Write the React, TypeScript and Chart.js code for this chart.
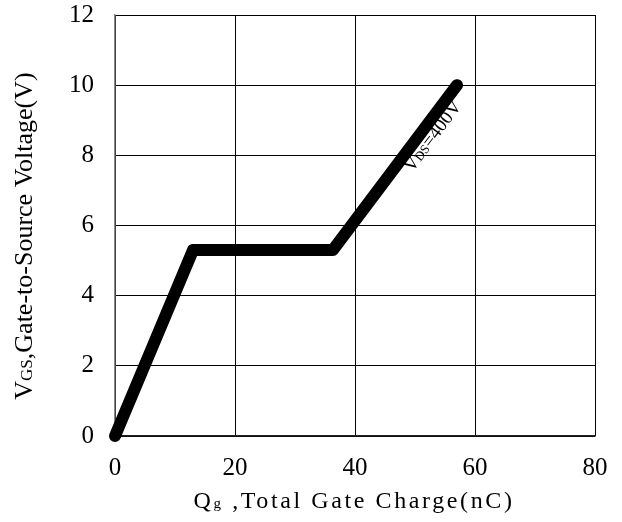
import React, { useEffect, useRef } from "react";
import { Chart, registerables } from "chart.js";
Chart.register(...registerables);

const qgValues = [0, 13, 36.3, 57];
const vgsValues = [0, 5.3, 5.3, 10];
const xTicks = [0, 20, 40, 60, 80];
const yTicks = [0, 2, 4, 6, 8, 10, 12];
const annotation = { x: 52.9, y: 8.55, main: "V", sub: "DS", rest: "=400V" };

const FONT = "'Liberation Serif', 'DejaVu Serif', serif";

function drawSubText(ctx: CanvasRenderingContext2D, parts: { t: string; size: number; dy: number }[], x: number, y: number, align: "center" | "left", spacing: number) {
  ctx.save();
  (ctx as any).letterSpacing = spacing + "px";
  let total = 0;
  const widths = parts.map((p) => {
    ctx.font = `${p.size}px ${FONT}`;
    const w = ctx.measureText(p.t).width;
    total += w;
    return w;
  });
  let cx = align === "center" ? x - total / 2 : x;
  ctx.textBaseline = "alphabetic";
  ctx.textAlign = "left";
  parts.forEach((p, i) => {
    ctx.font = `${p.size}px ${FONT}`;
    ctx.fillText(p.t, cx, y + p.dy);
    cx += widths[i];
  });
  ctx.restore();
}

const titlesPlugin = {
  id: "titles",
  afterDraw(chart: any) {
    const ctx = chart.ctx as CanvasRenderingContext2D;
    const xs = chart.scales.x;
    const ys = chart.scales.y;
    ctx.save();
    ctx.fillStyle = "#000";
    drawSubText(ctx, [
      { t: "Q", size: 24, dy: 0 },
      { t: "g", size: 15, dy: 0 },
      { t: " ,Total Gate Charge(nC)", size: 24, dy: 0 },
    ], 354, 508, "center", 2.6);
    ctx.save();
    ctx.translate(32, 236);
    ctx.rotate(-Math.PI / 2);
    drawSubText(ctx, [
      { t: "V", size: 26, dy: 0 },
      { t: "GS", size: 17, dy: 0 },
      { t: ",Gate-to-Source Voltage(V)", size: 26, dy: 0 },
    ], 0, 0, "center", 0);
    ctx.restore();
    const px = xs.getPixelForValue(annotation.x);
    const py = ys.getPixelForValue(annotation.y);
    ctx.save();
    ctx.translate(px, py);
    ctx.rotate(-53 * Math.PI / 180);
    drawSubText(ctx, [
      { t: annotation.main, size: 19, dy: 0 },
      { t: annotation.sub, size: 13, dy: 0 },
      { t: annotation.rest, size: 19, dy: 0 },
    ], 0, 6, "center", 0);
    ctx.restore();
    ctx.restore();
  },
};

export default function App() {
  const ref = useRef<HTMLCanvasElement>(null);
  useEffect(() => {
    document.body.style.margin = "0";
    const chart = new Chart(ref.current!, {
      type: "scatter",
      data: {
        datasets: [
          {
            data: qgValues.map((x, i) => ({ x, y: vgsValues[i] })),
            showLine: true,
            borderColor: "#000",
            backgroundColor: "#000",
            borderWidth: 12,
            borderCapStyle: "round",
            borderJoinStyle: "round",
            pointRadius: 0,
            clip: false,
          } as any,
        ],
      },
      options: {
        animation: false,
        responsive: false,
        layout: { padding: { top: 15, right: 27, left: 0, bottom: 0 } },
        plugins: { legend: { display: false }, tooltip: { enabled: false } },
        scales: {
          x: {
            type: "linear",
            min: 0,
            max: 80,
            afterBuildTicks: (s: any) => { s.ticks = xTicks.map((v) => ({ value: v })); },
            afterFit: (s: any) => { s.height = 86; s.paddingLeft = 0; s.paddingRight = 0; },
            grid: { color: "#000", lineWidth: 1, drawTicks: false },
            border: { color: "#222", width: 1.5 },
            ticks: { color: "#000", padding: 17, font: { family: FONT, size: 25 } },
          },
          y: {
            type: "linear",
            min: 0,
            max: 12,
            afterBuildTicks: (s: any) => { s.ticks = yTicks.map((v) => ({ value: v })); },
            afterFit: (s: any) => { s.width = 115; s.paddingTop = 0; s.paddingBottom = 0; },
            grid: { color: "#000", lineWidth: 1, drawTicks: false },
            border: { color: "#888", width: 1.5 },
            ticks: { color: "#000", padding: 21, font: { family: FONT, size: 25 } },
          },
        },
      } as any,
      plugins: [titlesPlugin],
    });
    return () => chart.destroy();
  }, []);
  return (
    <div style={{ position: "absolute", left: 0, top: 0, width: 622, height: 522 }}>
      <canvas ref={ref} width={622} height={522} style={{ width: 622, height: 522 }} />
    </div>
  );
}
